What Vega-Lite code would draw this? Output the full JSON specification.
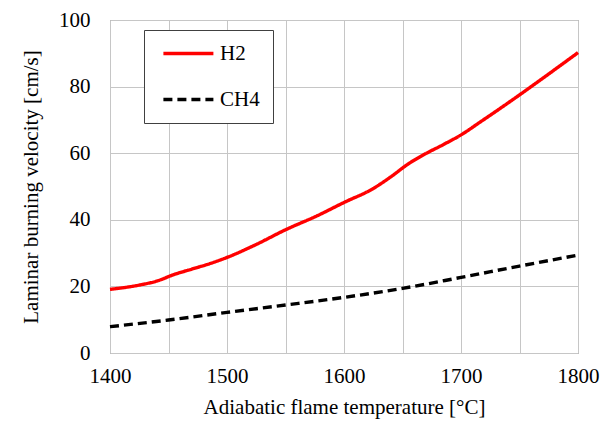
{
  "$schema": "https://vega.github.io/schema/vega-lite/v6.json",
  "width": 468,
  "height": 333,
  "autosize": {"type": "none"},
  "padding": {"left": 110, "top": 20, "right": 32, "bottom": 73},
  "background": "white",
  "config": {
    "font": "Liberation Serif",
    "view": {"stroke": "#7f7f7f", "strokeWidth": 1},
    "axis": {
      "domain": false,
      "ticks": false,
      "tickSize": 0,
      "gridColor": "#c6c6c6",
      "gridWidth": 1,
      "labelFont": "Liberation Serif",
      "labelFontSize": 21,
      "labelColor": "#000000",
      "titleFont": "Liberation Serif",
      "titleFontSize": 21,
      "titleFontWeight": "normal",
      "titleColor": "#000000"
    },
    "legend": {
      "labelFont": "Liberation Serif",
      "labelFontSize": 21,
      "labelColor": "#000000"
    }
  },
  "data": {
    "values": [
      {"T": 1400, "v": 19.1, "fuel": "H2"},
      {"T": 1425, "v": 20.4, "fuel": "H2"},
      {"T": 1440, "v": 21.6, "fuel": "H2"},
      {"T": 1455, "v": 23.6, "fuel": "H2"},
      {"T": 1470, "v": 25.2, "fuel": "H2"},
      {"T": 1485, "v": 26.8, "fuel": "H2"},
      {"T": 1500, "v": 28.7, "fuel": "H2"},
      {"T": 1525, "v": 32.6, "fuel": "H2"},
      {"T": 1550, "v": 37.0, "fuel": "H2"},
      {"T": 1577, "v": 41.2, "fuel": "H2"},
      {"T": 1600, "v": 45.2, "fuel": "H2"},
      {"T": 1625, "v": 49.4, "fuel": "H2"},
      {"T": 1640, "v": 52.9, "fuel": "H2"},
      {"T": 1655, "v": 56.8, "fuel": "H2"},
      {"T": 1670, "v": 59.9, "fuel": "H2"},
      {"T": 1685, "v": 62.6, "fuel": "H2"},
      {"T": 1700, "v": 65.5, "fuel": "H2"},
      {"T": 1717, "v": 69.5, "fuel": "H2"},
      {"T": 1750, "v": 77.5, "fuel": "H2"},
      {"T": 1775, "v": 83.8, "fuel": "H2"},
      {"T": 1800, "v": 90.2, "fuel": "H2"},
      {"T": 1400, "v": 7.9, "fuel": "CH4"},
      {"T": 1450, "v": 9.9, "fuel": "CH4"},
      {"T": 1500, "v": 12.2, "fuel": "CH4"},
      {"T": 1550, "v": 14.4, "fuel": "CH4"},
      {"T": 1600, "v": 16.7, "fuel": "CH4"},
      {"T": 1650, "v": 19.4, "fuel": "CH4"},
      {"T": 1700, "v": 22.7, "fuel": "CH4"},
      {"T": 1750, "v": 26.1, "fuel": "CH4"},
      {"T": 1800, "v": 29.4, "fuel": "CH4"}
    ]
  },
  "mark": {"type": "line", "interpolate": "monotone", "strokeWidth": 3.4, "strokeCap": "butt"},
  "encoding": {
    "x": {
      "field": "T",
      "type": "quantitative",
      "scale": {"domain": [1400, 1800], "nice": false, "zero": false},
      "axis": {
        "title": "Adiabatic flame temperature [°C]",
        "values": [1400, 1450, 1500, 1550, 1600, 1650, 1700, 1750, 1800],
        "labelExpr": "datum.value % 100 === 0 ? datum.label : ''",
        "format": "d",
        "labelPadding": 12,
        "titlePadding": 10,
        "labelFlush": false,
        "labelOverlap": false
      }
    },
    "y": {
      "field": "v",
      "type": "quantitative",
      "scale": {"domain": [0, 100], "nice": false},
      "axis": {
        "title": "Laminar burning velocity [cm/s]",
        "values": [0, 20, 40, 60, 80, 100],
        "labelPadding": 20,
        "titlePadding": 17,
        "labelFlush": false,
        "labelOverlap": false
      }
    },
    "color": {
      "field": "fuel",
      "type": "nominal",
      "scale": {"domain": ["H2", "CH4"], "range": ["#ff0000", "#000000"]},
      "legend": {
        "title": null,
        "orient": "none",
        "legendX": 34,
        "legendY": 10,
        "symbolType": "M-0.5125,0L5.7375,0",
        "symbolSize": 256,
        "symbolStrokeWidth": 3.4,
        "symbolFillColor": "transparent",
        "labelFont": "Liberation Serif",
        "labelFontSize": 21,
        "labelOffset": 42,
        "padding": 13,
        "rowPadding": 24,
        "strokeColor": "#404040",
        "fillColor": "white"
      }
    },
    "strokeDash": {
      "field": "fuel",
      "type": "nominal",
      "scale": {"domain": ["H2", "CH4"], "range": [[1, 0], [9, 5]]},
      "legend": {
        "title": null,
        "orient": "none",
        "legendX": 34,
        "legendY": 10,
        "symbolType": "M-0.5125,0L5.7375,0",
        "symbolSize": 256,
        "symbolStrokeWidth": 3.4,
        "symbolFillColor": "transparent",
        "labelFont": "Liberation Serif",
        "labelFontSize": 21,
        "labelOffset": 42,
        "padding": 13,
        "rowPadding": 24,
        "strokeColor": "#404040",
        "fillColor": "white"
      }
    }
  }
}
